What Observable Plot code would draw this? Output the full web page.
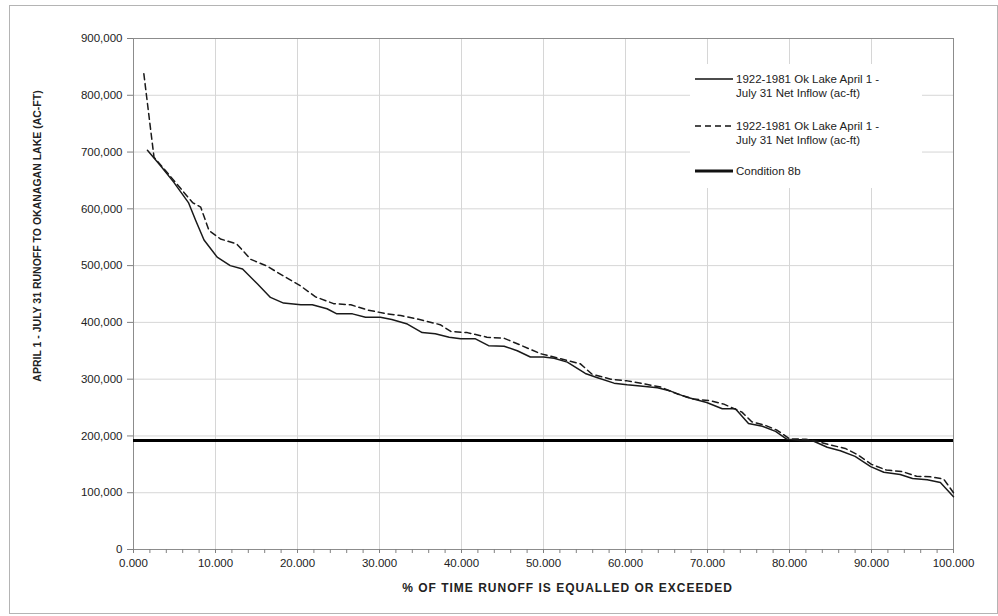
<!DOCTYPE html>
<html>
<head>
<meta charset="utf-8">
<script src="https://cdn.jsdelivr.net/npm/d3@7"></script>
<script src="https://cdn.jsdelivr.net/npm/@observablehq/plot@0.6"></script>
<style>
  html, body { margin: 0; padding: 0; background: white; }
  #wrap { position: relative; width: 998px; height: 616px; font-family: "Liberation Sans", Arial, sans-serif; }
  #border { position: absolute; left: 9px; top: 5px; width: 987px; height: 607px; border: 1px solid #b4b4b4; pointer-events: none; }
  #legend { position: absolute; left: 690px; top: 64px; width: 232px; height: 124px; background: white; font-size: 11.5px; color: #222; }
  .lg { position: absolute; }
  .lt { position: absolute; left: 46px; line-height: 14px; white-space: nowrap; }
  .xtitle { letter-spacing: 1px; }
</style>
</head>
<body>
<div id="wrap">
  <div id="chart"></div>
  <div id="legend"></div>
  <div id="border"></div>
</div>
<script>
// ---- data ----
const solidPct = [1.7, 3.3, 4.9, 6.7, 7.6, 8.6, 10.2, 11.8, 13.3, 15.1, 16.7, 18.3, 20.4, 21.8, 23.6, 24.8, 26.7, 28.3, 30.1, 31.5, 33.4, 35.2, 36.8, 38.5, 39.9, 41.7, 43.3, 45.2, 46.8, 48.4, 50.0, 51.3, 52.9, 55.1, 56.5, 58.6, 60.2, 61.8, 63.9, 65.5, 67.5, 69.9, 71.8, 73.4, 75.0, 76.7, 78.3, 79.7, 81.3, 82.9, 84.6, 86.2, 88.0, 89.9, 91.5, 93.5, 95.0, 96.8, 98.4, 100];
const solidFlow = [703000, 676000, 647000, 611000, 579000, 545000, 515000, 500000, 494000, 468000, 444000, 434000, 431000, 431000, 424000, 415000, 415000, 409000, 409000, 405000, 397000, 382000, 380000, 374000, 371000, 371000, 359000, 358000, 350000, 339000, 339000, 337000, 330000, 310000, 303000, 293000, 290000, 288000, 285000, 279000, 268000, 259000, 248000, 248000, 222000, 217000, 208000, 194000, 192000, 191000, 180000, 174000, 164000, 146000, 136000, 132000, 125000, 123000, 118000, 93000];

const dashedPct = [1.26, 2.5, 5.1, 7.2, 8.2, 9.2, 10.6, 12.6, 14.3, 16.3, 17.9, 20.4, 22.2, 24.4, 26.5, 28.5, 30.9, 32.6, 34.6, 37.4, 38.7, 40.7, 43.1, 45.2, 47.2, 49.6, 52.1, 54.5, 55.9, 58.2, 60.2, 62.2, 64.3, 66.3, 68.3, 70.4, 72.0, 74.2, 75.4, 77.0, 78.5, 80.0, 82.0, 83.5, 85.0, 86.8, 88.3, 90.0, 91.8, 93.8, 95.5, 97.2, 98.8, 100];
const dashedFlow = [838000, 691000, 647000, 611000, 603000, 562000, 547000, 538000, 511000, 499000, 485000, 464000, 445000, 433000, 431000, 422000, 415000, 412000, 406000, 396000, 384000, 382000, 374000, 372000, 360000, 345000, 336000, 327000, 309000, 300000, 297000, 292000, 286000, 274000, 265000, 262000, 256000, 242000, 225000, 219000, 210000, 195000, 194000, 190000, 184000, 178000, 167000, 150000, 140000, 137000, 129000, 128000, 124000, 100000];

const condition8b = 192000;

const xMajorTicks = [0, 10, 20, 30, 40, 50, 60, 70, 80, 90, 100];
const xMinorTicks = [0, 2, 4, 6, 8, 10, 12, 14, 16, 18, 20, 22, 24, 26, 28, 30, 32, 34, 36, 38, 40, 42, 44, 46, 48, 50, 52, 54, 56, 58, 60, 62, 64, 66, 68, 70, 72, 74, 76, 78, 80, 82, 84, 86, 88, 90, 92, 94, 96, 98, 100];
const yTicks = [0, 100000, 200000, 300000, 400000, 500000, 600000, 700000, 800000, 900000];

const seriesName = "1922-1981 Ok Lake April 1 - July 31 Net Inflow (ac-ft)";
const conditionName = "Condition 8b";
const xTitle = "% OF TIME RUNOFF IS EQUALLED OR EXCEEDED";
const yTitle = "APRIL 1 - JULY 31 RUNOFF TO OKANAGAN LAKE (AC-FT)";

// ---- build ----
const solid = solidPct.map((p, i) => ({pct: p, flow: solidFlow[i]}));
const dashed = dashedPct.map((p, i) => ({pct: p, flow: dashedFlow[i]}));

const chart = Plot.plot({
  width: 998,
  height: 616,
  marginLeft: 133,
  marginRight: 45,
  marginTop: 38,
  marginBottom: 67,
  style: {fontFamily: "'Liberation Sans', Arial, sans-serif", fontSize: "11.5px", color: "#222", background: "white"},
  x: {domain: [0, 100]},
  y: {domain: [0, 900000]},
  marks: [
    Plot.gridX(xMajorTicks, {stroke: "#d6d6d6", strokeOpacity: 1}),
    Plot.gridY(yTicks, {stroke: "#d6d6d6", strokeOpacity: 1}),
    Plot.frame({stroke: "#8c8c8c"}),
    Plot.axisY(yTicks, {tickFormat: d3.format(","), tickSize: 6, tickPadding: 5, stroke: "#808080", label: null}),
    Plot.axisX(xMinorTicks, {tickFormat: () => "", tickSize: 4, stroke: "#808080", label: null}),
    Plot.axisX(xMajorTicks, {tickFormat: d => d.toFixed(3), tickSize: 4, tickPadding: 5, stroke: "#808080", label: null}),
    Plot.ruleY([condition8b], {x1: 0, x2: 100, stroke: "#000", strokeWidth: 3}),
    Plot.line(solid, {x: "pct", y: "flow", stroke: "#1a1a1a", strokeWidth: 1.5}),
    Plot.line(dashed, {x: "pct", y: "flow", stroke: "#1a1a1a", strokeWidth: 1.5, strokeDasharray: "6,4"}),
    Plot.text([xTitle], {frameAnchor: "bottom", dx: 24, dy: 42, fontWeight: "bold", fontSize: 12, fill: "#222", className: "xtitle"}),
    Plot.text([yTitle], {frameAnchor: "left", textAnchor: "middle", rotate: -90, dx: -96, dy: -58, fontWeight: "bold", fontSize: 10.5, fill: "#222"})
  ]
});
document.getElementById("chart").appendChild(chart);

// ---- legend ----
const legend = d3.select("#legend");
const entries = [
  {dash: null, width: 1.5, lines: ["1922-1981 Ok Lake April 1 -", "July 31 Net Inflow (ac-ft)"], y: 15, name: seriesName},
  {dash: "6,4", width: 1.5, lines: ["1922-1981 Ok Lake April 1 -", "July 31 Net Inflow (ac-ft)"], y: 62, name: seriesName},
  {dash: null, width: 3, lines: [conditionName], y: 107, name: conditionName}
];
for (const e of entries) {
  const s = legend.append("svg").attr("class", "lg")
    .style("left", "4px").style("top", (e.y - 5) + "px")
    .attr("width", 40).attr("height", 10);
  s.append("line").attr("x1", 1).attr("x2", 39).attr("y1", 5).attr("y2", 5)
    .attr("stroke", "#111").attr("stroke-width", e.width)
    .attr("stroke-dasharray", e.dash);
  legend.append("div").attr("class", "lt")
    .style("top", (e.y - 7) + "px")
    .html(e.lines.join("<br>"));
}
</script>
</body>
</html>
